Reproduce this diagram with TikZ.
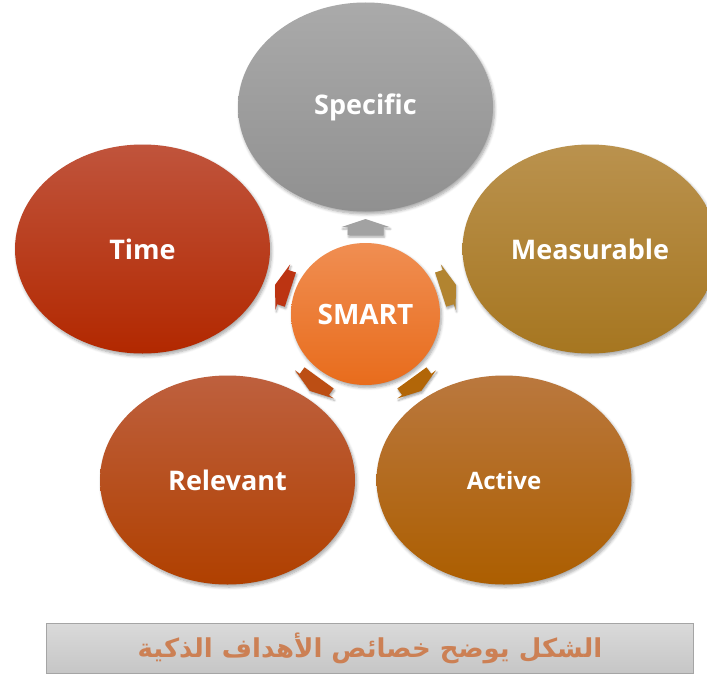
\documentclass[tikz,border=0pt]{standalone}
\usepackage{fontspec}
\setmainfont{Open Sans}
\newfontfamily\arabicfont[Script=Arabic]{DejaVu Sans}
\TeXXeTstate=1
\usetikzlibrary{shapes.geometric,shadows.blur}
\definecolor{specT}{RGB}{170,170,170}\definecolor{specB}{RGB}{144,144,144}
\definecolor{timeT}{RGB}{192,84,60}\definecolor{timeB}{RGB}{178,40,0}
\definecolor{measT}{RGB}{186,146,78}\definecolor{measB}{RGB}{166,118,32}
\definecolor{relT}{RGB}{190,96,62}\definecolor{relB}{RGB}{176,64,0}
\definecolor{actT}{RGB}{186,120,62}\definecolor{actB}{RGB}{172,94,0}
\definecolor{smartT}{RGB}{240,142,82}\definecolor{smartB}{RGB}{232,108,28}
\definecolor{capT}{RGB}{218,218,218}\definecolor{capB}{RGB}{198,198,198}
\definecolor{capline}{RGB}{165,165,165}
\definecolor{copper}{RGB}{204,128,84}
\tikzset{
  bubble/.style={ellipse, inner sep=0pt, minimum width=255pt, minimum height=209pt,
    text=white, font=\bfseries\fontsize{27}{30}\selectfont,
    blur shadow={shadow xshift=1.5pt, shadow yshift=-2.5pt, shadow blur radius=3pt, shadow blur steps=6, shadow opacity=35}},
  barrow/.style={blur shadow={shadow xshift=1pt, shadow yshift=-2pt, shadow blur radius=2pt, shadow blur steps=4, shadow opacity=35}},
}
\begin{document}
\begin{tikzpicture}[x=1pt,y=-1pt]
\useasboundingbox (0,0) rectangle (707,677);
\node[bubble, top color=specT, bottom color=specB] (spec) at (365.5,107) {Specific};
\node[bubble, top color=timeT, bottom color=timeB] (time) at (142.5,249) {Time};
\node[bubble, top color=measT, bottom color=measB] (meas) at (590,249) {Measurable};
\node[bubble, top color=relT, bottom color=relB] (rel) at (227.5,480) {Relevant};
\node[bubble, top color=actT, bottom color=actB, font=\bfseries\fontsize{24}{28}\selectfont] (act) at (504,480) {Active};
\node[bubble, minimum width=149pt, minimum height=142pt, top color=smartT, bottom color=smartB, font=\bfseries\fontsize{28}{30}\selectfont] (smart) at (365.5,314) {SMART};
\foreach \ang/\col in {90/{rgb,255:red,162;green,162;blue,162},18/{rgb,255:red,178;green,132;blue,48},162/{rgb,255:red,188;green,52;blue,18},234/{rgb,255:red,188;green,78;blue,20},306/{rgb,255:red,178;green,102;blue,8}}{
  \fill[barrow, fill=\col, shift={(smart.center)}, rotate=\ang]
    (95,0) -- (87,24) -- (87,18) -- (79,18) -- (79,-18) -- (87,-18) -- (87,-24) -- cycle;
}
\node[draw=capline, line width=1pt, top color=capT, bottom color=capB, minimum width=647pt, minimum height=50pt, inner sep=0pt] (cap) at (370,648)
  {\textcolor{copper}{\arabicfont\bfseries\fontsize{26}{30}\selectfont\beginR الشكل يوضح خصائص الأهداف الذكية\endR}};
\end{tikzpicture}
\end{document}
